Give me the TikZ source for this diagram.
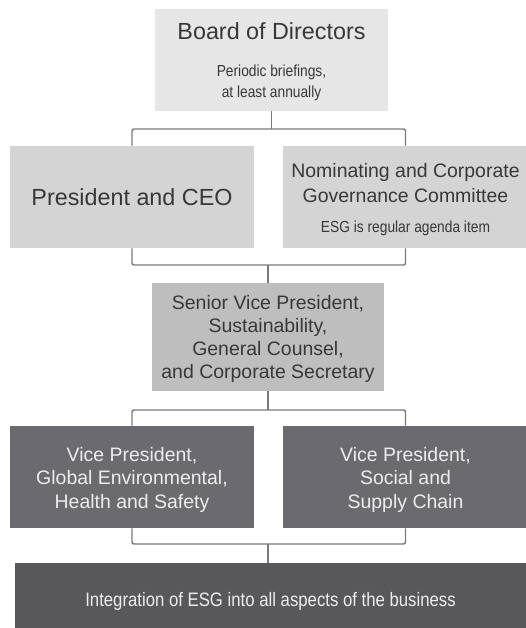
\documentclass[tikz,border=0pt]{standalone}
\usepackage{fontspec}
\usepackage{xcolor}
\usepackage{tikz}
\setmainfont{Liberation Sans}
\newfontfamily\narrowfont[FakeStretch=0.86]{Liberation Sans}
\newcommand{\notefont}{\narrowfont\fontsize{12}{15}\selectfont}
\newcommand{\midfont}{\fontsize{14.6}{18.75}\selectfont}

\definecolor{boardgray}{HTML}{E6E6E6}
\definecolor{upgray}{HTML}{D4D4D4}
\definecolor{svpgray}{HTML}{BEBEBE}
\definecolor{vpgray}{HTML}{6B6B6F}
\definecolor{basegray}{HTML}{58585B}
\definecolor{textdark}{HTML}{383838}
\definecolor{textlight}{HTML}{EDEDED}
\definecolor{linkgray}{HTML}{7A7A7A}

\begin{document}
\begin{tikzpicture}[x=0.75pt,y=0.75pt,yscale=-1,xscale=1,
  box/.style={inner sep=0pt, align=center, text=textdark},
  big/.style={font=\fontsize{17.5}{20}\selectfont},
  mid/.style={font=\fontsize{14.6}{17.3}\selectfont},
  link/.style={draw=linkgray, line width=1.1pt, rounded corners=1.5pt}]
\useasboundingbox (0,0) rectangle (525,628);

% boxes
\node (board) at (271.5,60) [box, big, fill=boardgray, minimum width=174.75pt, minimum height=76.5pt] {\rule{0pt}{15pt}Board of Directors\\[7.5pt]\notefont Periodic briefings,\\[-4pt]\notefont at least annually};
\node (pres) at (132,197) [box, big, fill=upgray, minimum width=183pt, minimum height=76.5pt] {President and CEO};
\node (nom) at (405.5,197) [box, font=\midfont, fill=upgray, minimum width=183.75pt, minimum height=76.5pt] {\rule{0pt}{14pt}Nominating and Corporate\\Governance Committee\\[4pt]\notefont ESG is regular agenda item};
\node (svp) at (268,337) [box, mid, fill=svpgray, minimum width=174pt, minimum height=81pt] {\rule{0pt}{14pt}Senior Vice President,\\Sustainability,\\General Counsel,\\and Corporate Secretary};
\node (vpehs) at (132,477) [box, mid, fill=vpgray, text=textlight, minimum width=183pt, minimum height=76.5pt] {\rule{0pt}{15pt}Vice President,\\Global Environmental,\\Health and Safety};
\node (vpsc) at (405.5,477) [box, mid, fill=vpgray, text=textlight, minimum width=183.75pt, minimum height=76.5pt] {\rule{0pt}{15pt}Vice President,\\Social and\\Supply Chain};
\node (integ) at (270.5,601.5) [box, fill=basegray, text=textlight, minimum width=383.25pt, minimum height=57.75pt] {\narrowfont\fontsize{14.6}{17}\selectfont Integration of ESG into all aspects of the business};

% connectors
\coordinate (j1) at (271.5,129);
\coordinate (j2) at (268,265);
\coordinate (j3) at (268,410);
\coordinate (j4) at (268,544);
\draw [link] (board.south) -- (j1);
\draw [link] (pres.north) |- (j1) -| (nom.north);
\draw [link] (pres.south) |- (j2) -| (nom.south);
\draw [link] (j2) -- (svp.north);
\draw [link] (svp.south) -- (j3);
\draw [link] (vpehs.north) |- (j3) -| (vpsc.north);
\draw [link] (vpehs.south) |- (j4) -| (vpsc.south);
\draw [link] (j4) -- (j4 |- integ.north);
\end{tikzpicture}
\end{document}
